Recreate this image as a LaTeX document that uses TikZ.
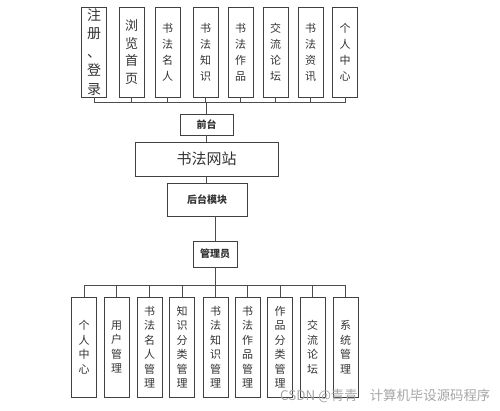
\documentclass[tikz,border=0pt]{standalone}
\usepackage{fontspec}
\newfontfamily\cjk{Noto Sans CJK SC}
\begin{document}
\begin{tikzpicture}[x=1pt,y=-1pt,
  box/.style={draw=black!75,line width=0.8pt,inner sep=0pt,align=center,font=\cjk\fontsize{11}{16}\selectfont,text=black!80},
  tbox/.style={box,minimum width=25pt,minimum height=90pt},
  bbox/.style={box,minimum width=25pt,minimum height=100pt,font=\cjk\fontsize{11}{14.5}\selectfont},
  mbox/.style={box,font=\cjk\bfseries\fontsize{10}{12}\selectfont},
  conn/.style={draw=black!70,line width=0.8pt}]
\useasboundingbox (0,0) rectangle (500,410);
% top level
\node[tbox,font=\cjk\fontsize{14}{18.5}\selectfont] (t1) at (94,52) {注\\册\\、\\登\\录};
\node[tbox,font=\cjk\fontsize{13}{17.5}\selectfont] (t2) at (131.5,52) {浏\\览\\首\\页};
\node[tbox] (t3) at (167.5,52) {书\\法\\名\\人};
\node[tbox] (t4) at (205.5,52) {书\\法\\知\\识};
\node[tbox] (t5) at (240.5,52) {书\\法\\作\\品};
\node[tbox] (t6) at (275.5,52) {交\\流\\论\\坛};
\node[tbox] (t7) at (310.5,52) {书\\法\\资\\讯};
\node[tbox] (t8) at (345,52) {个\\人\\中\\心};
% middle
\node[mbox,minimum width=53pt,minimum height=21pt] (qt) at (206.5,124.5) {前台};
\node[box,minimum width=143pt,minimum height=34pt,font=\cjk\fontsize{15}{18}\selectfont] (site) at (206.5,159) {书法网站};
\node[mbox,minimum width=80pt,minimum height=33pt] (ht) at (207,199.5) {后台模块};
\node[mbox,minimum width=44pt,minimum height=26pt] (gl) at (215,254) {管理员};
% bottom level
\node[bbox] (b1) at (84,347) {个\\人\\中\\心};
\node[bbox] (b2) at (116.5,347) {用\\户\\管\\理};
\node[bbox] (b3) at (149.5,347) {书\\法\\名\\人\\管\\理};
\node[bbox] (b4) at (182,347) {知\\识\\分\\类\\管\\理};
\node[bbox] (b5) at (215.5,347) {书\\法\\知\\识\\管\\理};
\node[bbox] (b6) at (247.5,347) {书\\法\\作\\品\\管\\理};
\node[bbox] (b7) at (280,347) {作\\品\\分\\类\\管\\理};
\node[bbox] (b8) at (312.5,347) {交\\流\\论\\坛};
\node[bbox] (b9) at (345.5,347) {系\\统\\管\\理};
% connectors
\coordinate (topbus) at (206.5,102);
\foreach \i in {1,...,8} \draw[conn] (t\i.south) |- (topbus) -- (qt.north);
\draw[conn] (qt.south) -- (site.north -| qt.south);
\draw[conn] (site.south -| qt.south) -- (ht.north -| qt.south);
\draw[conn] (ht.south -| gl.north) -- (gl.north);
\coordinate (botbus) at (215,285);
\foreach \i in {1,...,9} \draw[conn] (gl.south) -- (botbus) -| (b\i.north);
% watermark
\node[font=\cjk\fontsize{13.4}{15}\selectfont,text=black!35,anchor=west,inner sep=0pt] (wm) at (280,396) {CSDN @青青\hspace{12pt}计算机毕设源码程序};
\end{tikzpicture}
\end{document}
